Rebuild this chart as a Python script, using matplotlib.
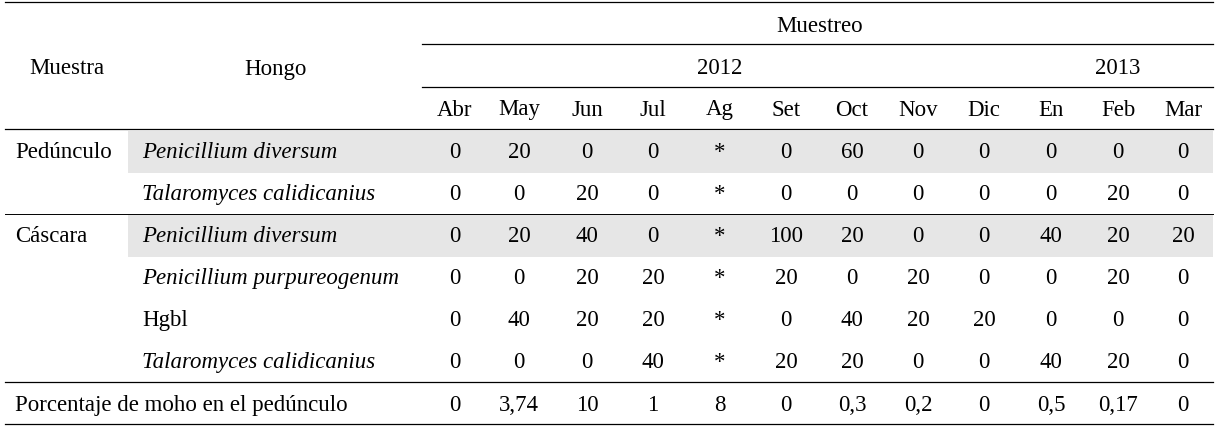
import matplotlib
matplotlib.use("Agg")
import matplotlib.pyplot as plt
from matplotlib.patches import Rectangle

months = ["Abr","May","Jun","Jul","Ag","Set","Oct","Nov","Dic","En","Feb","Mar"]
muestra = ["Pedúnculo","","Cáscara","","",""]
hongos = ["Penicillium diversum","Talaromyces calidicanius","Penicillium diversum",
          "Penicillium purpureogenum","Hgbl","Talaromyces calidicanius"]
italic = [True, True, True, True, False, True]
r1 = ["0","20","0","0","*","0","60","0","0","0","0","0"]
r2 = ["0","0","20","0","*","0","0","0","0","0","20","0"]
r3 = ["0","20","40","0","*","100","20","0","0","40","20","20"]
r4 = ["0","0","20","20","*","20","0","20","0","0","20","0"]
r5 = ["0","40","20","20","*","0","40","20","20","0","0","0"]
r6 = ["0","0","0","40","*","20","20","0","0","40","20","0"]
rows = [r1, r2, r3, r4, r5, r6]
shaded = [True, False, True, False, False, False]
porcentaje = ["0","3,74","10","1","8","0","0,3","0,2","0","0,5","0,17","0"]

W, H = 1218, 427
fig = plt.figure(figsize=(W/100, H/100), dpi=100)
ax = fig.add_axes([0, 0, 1, 1])
ax.set_xlim(0, W); ax.set_ylim(H, 0); ax.axis("off")
plt.rcParams['font.family'] = ['Liberation Serif']
fs = 16.5
mx = [455, 519, 587, 653, 720, 786, 852, 918, 984, 1051, 1118, 1183]
row_y = [153, 195, 237, 279, 321, 363]

for y, s in zip(row_y, shaded):
    if s:
        ax.add_patch(Rectangle((128, y-21), 1213-128, 42, color="#e6e6e6", lw=0))

def hline(y, x0=5, x1=1213, lw=0.9):
    ax.plot([x0, x1], [y, y], color="black", lw=lw)
hline(3); hline(45, 422); hline(88, 422); hline(130); hline(215, lw=0.7); hline(383); hline(425)

t = dict(fontsize=fs, va="center", family="Liberation Serif")
ax.text(820, 26, "Muestreo", ha="center", **t)
ax.text(720, 69, "2012", ha="center", **t)
ax.text(1118, 69, "2013", ha="center", **t)
ax.text(67, 69, "Muestra", ha="center", **t)
ax.text(275, 69, "Hongo", ha="center", **t)
for x, m in zip(mx, months):
    ax.text(x, 110, m, ha="center", **t)
for y, mu, h, it, r in zip(row_y, muestra, hongos, italic, rows):
    ax.text(15, y, mu, ha="left", **t)
    ax.text(142, y, h, ha="left", style="italic" if it else "normal", **t)
    for x, v in zip(mx, r):
        ax.text(x, y, v, ha="center", **t)
ax.text(15, 406, "Porcentaje de moho en el pedúnculo", ha="left", **t)
for x, v in zip(mx, porcentaje):
    ax.text(x, 406, v, ha="center", **t)

fig.savefig("out.png", dpi=100)
